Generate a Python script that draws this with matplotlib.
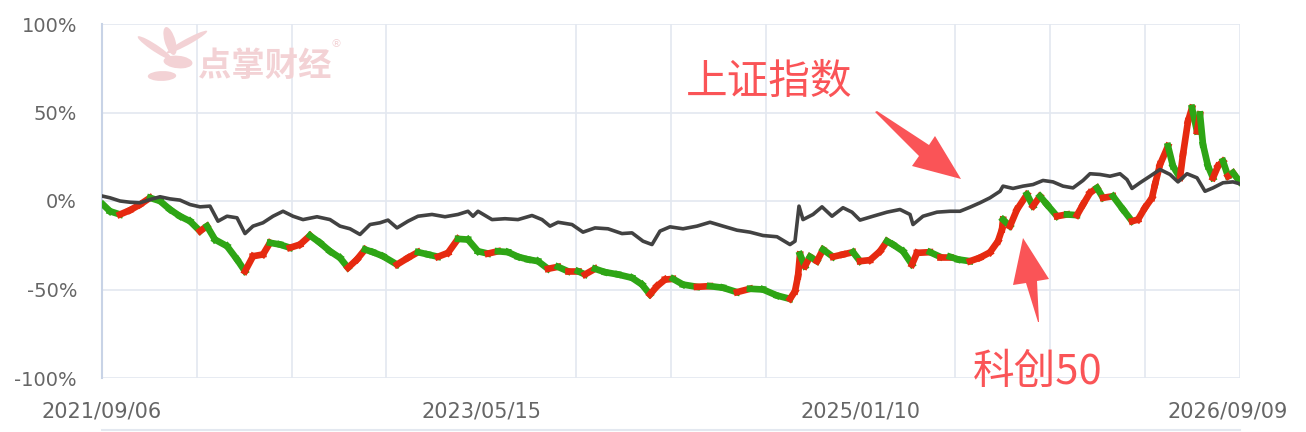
import matplotlib
matplotlib.use('Agg')
import matplotlib.pyplot as plt
import numpy as np
from matplotlib.collections import LineCollection
from matplotlib.patches import Polygon, Ellipse

### (0) Data (trading-day index, % change)
sh_day = [1, 8, 18, 28, 38, 48, 58, 68, 78, 88, 98, 108, 116, 125, 135, 143, 151, 161, 171, 181,
          191, 201, 215, 228, 238, 248, 258, 268, 278, 286, 295, 306, 316, 330, 343, 356, 366, 371, 376, 390,
          403, 416, 430, 440, 448, 456, 470, 481, 493, 506, 520, 530, 541, 550, 558, 568, 581, 595, 608, 621,
          635, 648, 661, 675, 688, 693, 697, 701, 711, 720, 730, 741, 750, 758, 771, 785, 798, 808, 811, 821,
          835, 848, 858, 868, 878, 888, 898, 901, 911, 921, 931, 941, 951, 961, 971, 981, 988, 998, 1008, 1018,
          1025, 1030, 1038, 1048, 1058, 1068, 1076, 1085, 1095, 1103, 1111, 1121, 1131, 1138]
sh_val = [2.7, 1.8, 0, -0.7, -1, 0.8, 2.4, 1.2, 0.5, -2, -3.3, -2.9, -11.4, -8.6, -9.5, -18.4, -14.2, -12.3, -8.6, -5.8,
          -8.6, -10.5, -8.9, -10.5, -14.2, -15.7, -18.9, -13.3, -12.3, -10.8, -15.2, -11.4, -8.6, -7.6, -8.9, -7.6, -5.8, -8.6, -5.8, -10.5,
          -10, -10.5, -8.2, -10.5, -14.2, -12, -13.3, -17.6, -15.2, -15.7, -18.4, -18, -22.7, -24.6, -17, -14.6, -15.7, -14.2, -12, -14.2,
          -16.5, -17.6, -19.5, -20.2, -24.6, -22.7, -2.9, -10.5, -7.6, -3.3, -8.6, -3.8, -6.3, -10.8, -8.6, -6.3, -4.8, -7.6, -13.3, -8.6,
          -6.3, -5.8, -5.8, -3.5, -1, 1.8, 5.5, 8.4, 7.1, 8.4, 9.3, 11.6, 10.8, 8.4, 7.4, 11.6, 15.4, 15, 14, 15.4,
          12.1, 7.1, 10.3, 14, 17.8, 15, 10.8, 15.4, 13.1, 5.5, 7.4, 10.3, 10.8, 9.7]

kc_day = [1, 8, 18, 28, 38, 48, 58, 68, 78, 88, 98, 105, 113, 125, 135, 143, 151, 161, 168, 178,
          188, 198, 208, 218, 228, 238, 246, 255, 263, 271, 281, 295, 306, 316, 326, 336, 346, 356, 366, 376,
          386, 396, 406, 416, 426, 436, 446, 456, 466, 476, 483, 493, 503, 516, 530, 540, 548, 555, 563, 571,
          581, 595, 608, 621, 635, 648, 661, 675, 688, 693, 696, 698, 703, 708, 715, 721, 731, 741, 751, 758,
          768, 778, 785, 791, 801, 810, 815, 828, 838, 848, 856, 868, 878, 888, 896, 900, 901, 908, 915, 925,
          931, 938, 945, 955, 965, 975, 981, 988, 995, 1001, 1011, 1021, 1030, 1036, 1043, 1050, 1053, 1058, 1066, 1071,
          1078, 1081, 1086, 1090, 1095, 1098, 1101, 1106, 1111, 1116, 1121, 1126, 1131, 1138]
kc_val = [-2, -5.8, -7.6, -5.2, -2, 1.8, 0, -4.8, -8.6, -11.4, -17, -14.2, -21.8, -25.5, -33, -39.7, -31.2, -30.2, -23.6, -24.6,
          -26.4, -24.6, -19.5, -23.6, -28.4, -32.1, -37.7, -33, -27.4, -28.9, -31.2, -35.9, -32.1, -28.9, -30.2, -31.5, -29.3, -21.4, -21.8, -28.4,
          -29.7, -28.4, -28.9, -31.5, -33, -34, -38.3, -37.2, -39.7, -39.7, -41.5, -38.3, -40.2, -41.5, -43.4, -47.2, -52.8, -48.1, -44.4, -44,
          -47.2, -48.5, -48.1, -49, -51.5, -49.6, -50, -53.4, -55.3, -51, -42.5, -30.2, -36.8, -31.5, -34, -27.4, -31.5, -30.2, -28.9, -34,
          -33.4, -28.4, -22.7, -24.6, -28.4, -35.9, -29.3, -28.9, -31.5, -31.5, -33, -34, -32, -29, -22.7, -16, -10.5, -14.2, -4.8, 3.7,
          -2.9, 2.7, -2, -8.6, -7.6, -8, -2, 4.6, 7.4, 1.8, 2.7, -4.8, -11.4, -10.5, -3.8, 1.8, 9.3, 20.6, 31, 19.7,
          13.1, 26.3, 45, 52.6, 39.4, 48.9, 31.9, 19.7, 13.1, 19.7, 22.5, 14, 15.9, 10.8]

# last label sits a little inside the right edge, as in the original chart
x_ticks = [0, 379.33, 758.67, 1126]
x_labels = ['2021/09/06', '2023/05/15', '2025/01/10', '2026/09/09']
y_ticks = [-100, -50, 0, 50, 100]
y_labels = ['-100%', '-50%', '0%', '50%', '100%']

### (1) Figure
W, H = 1306, 432
fig = plt.figure(figsize=(W/100, H/100), dpi=100)
ax = fig.add_axes([102/W, 1-378/H, 1138/W, 354/H])

def px(x, y):
    return (x/W, 1-y/H)

grid_c = '#e3e8f0'
ax.set_xlim(0, 1138)
ax.set_ylim(-100, 100)
ax.set_xticks(x_ticks)
ax.set_xticklabels(x_labels, fontsize=15)
ax.set_xticks(np.linspace(0, 1138, 13), minor=True)
ax.set_yticks(y_ticks)
ax.set_yticklabels(y_labels, fontsize=14)
ax.grid(which='minor', axis='x', color=grid_c, lw=1.2)
ax.grid(which='major', axis='y', color=grid_c, lw=1.2)
ax.tick_params(which='both', length=0, colors='#666666')
ax.tick_params(axis='y', pad=18)
ax.tick_params(axis='x', pad=17)
for s in ['top', 'right', 'bottom']:
    ax.spines[s].set_visible(False)
ax.spines['left'].set_color('#c8d3e6')
ax.spines['left'].set_linewidth(1.5)

### (2) STAR50 as red/green thick segments
kd = np.array(kc_day, float)
kv = np.array(kc_val, float)
segs = [[(kd[i-1], kv[i-1]), (kd[i], kv[i])] for i in range(1, len(kd))]
cols = ['#e62a10' if kv[i] >= kv[i-1] else '#2ea515' for i in range(1, len(kd))]
lc = LineCollection(segs, colors=cols, linewidths=4.8, capstyle='projecting', zorder=3)
ax.add_collection(lc)

### (3) Shanghai index line
ax.plot(sh_day, sh_val, color='#424242', lw=2.6, zorder=4, solid_joinstyle='round')

### (4) Annotations
red = '#fa5457'
cjk = ['Noto Sans CJK SC', 'DejaVu Sans']
fig.text(*px(686, 82), '上证指数', family=cjk, fontsize=30, color=red, va='center', ha='left')
fig.text(*px(973, 372), '科创50', family=cjk, fontsize=30, color=red, va='center', ha='left')

arr1 = [(875, 112), (877, 111), (929, 145), (935, 136), (961, 179), (912, 166), (919, 156)]
arr2 = [(1038, 322), (1026, 283), (1013, 285), (1023, 238), (1049, 279), (1037, 281), (1039, 322)]
for pts in [arr1, arr2]:
    fig.patches.append(Polygon([px(x, y) for x, y in pts], closed=True, transform=fig.transFigure,
                               facecolor=red, edgecolor='none', zorder=10))

### watermark
wm = '#f3d2d5'
fig.text(*px(198, 66), '点掌财经', family=cjk, fontsize=24, color=wm, va='center', ha='left',
         fontweight='bold', zorder=0)
fig.text(*px(330, 44), '®', fontsize=8, color=wm, va='center', ha='left')
for (cx, cy, w, h, a) in [(155, 48, 11, 26, 25), (170, 41, 11, 28, 5), (187, 42, 11, 26, -30),
                          (178, 62, 28, 13, 15), (162, 76, 28, 10, -25)]:
    fig.patches.append(Ellipse(px(cx, cy), w/W, h/H, angle=a, transform=fig.transFigure,
                               facecolor=wm, edgecolor='none', zorder=0))

### bottom slider line
fig.add_artist(plt.Line2D([102/W, 1240/W], [1-430/H, 1-430/H], color='#e3e8f0', lw=1.5,
                          transform=fig.transFigure))

fig.savefig('out.png', dpi=100)
